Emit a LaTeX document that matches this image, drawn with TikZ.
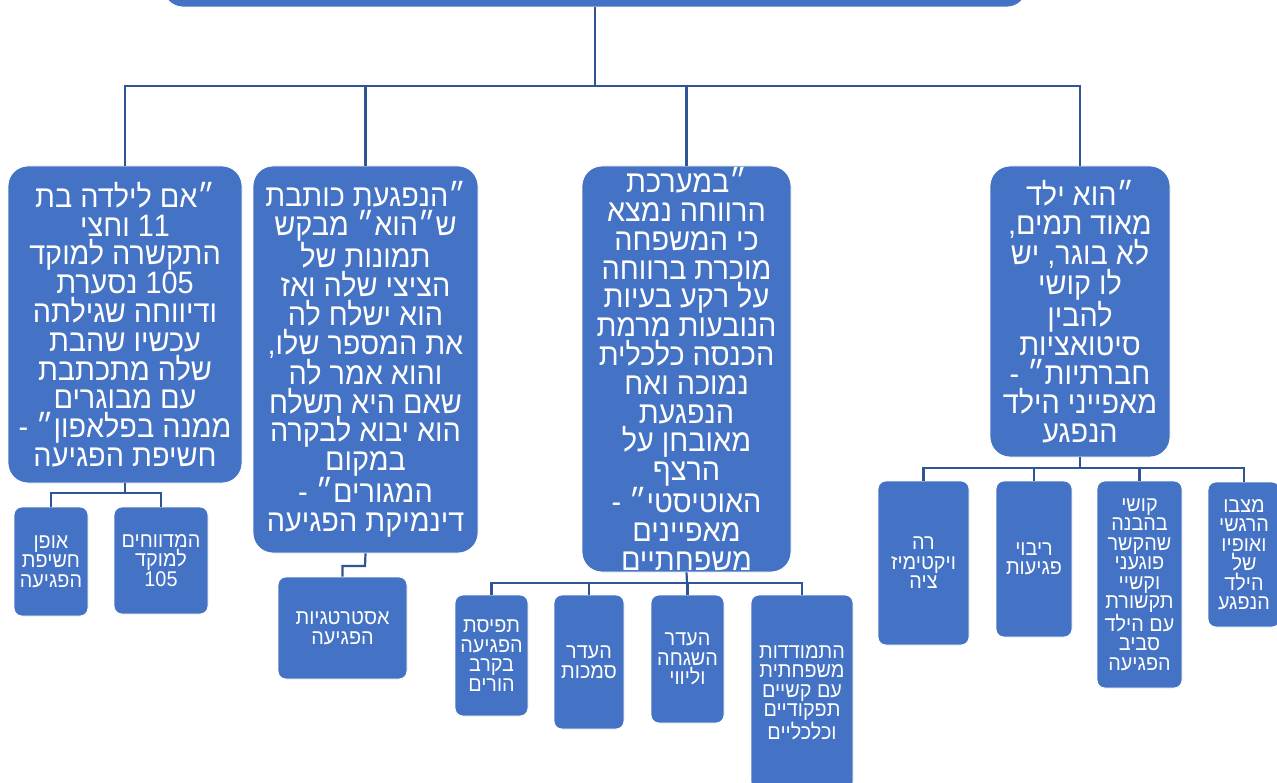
\documentclass[tikz,border=0pt]{standalone}
\usepackage{fontspec}
\newfontfamily\heb[Script=Hebrew, FakeStretch=0.93]{Liberation Sans}
\TeXXeTstate=1
\newcommand\rtl[1]{\beginR #1\endR}
\newcommand\ltrnum[1]{\beginL #1\endL{}}
\definecolor{boxblue}{RGB}{68,114,196}
\definecolor{linkblue}{RGB}{47,85,151}
\tikzset{
  base/.style={rectangle, fill=boxblue, draw=white, line width=0.8pt, text=white, align=center, inner sep=0pt},
  lone/.style={base, rounded corners=20pt, font={\heb\fontsize{31}{28.8}\selectfont}},
  ltwo/.style={base, rounded corners=8pt, font={\heb\fontsize{21.3}{19.5}\selectfont}},
  conn/.style={draw=linkblue, line width=2.2pt}
}
\begin{document}
\begin{tikzpicture}[x=1pt,y=-1pt]
\useasboundingbox (0,0) rectangle (1277,783);
\clip (0,0) rectangle (1277,783);
% root (cut off at top)
\node[lone, minimum width=864, minimum height=80] (root) at (595,-33) {};
% level 1
\node[lone, minimum width=234, minimum height=317] (A) at (125,324.5) {%
\rtl{״אם לילדה בת}\\
\rtl{\ltrnum{11} וחצי}\\
\rtl{התקשרה למוקד}\\
\rtl{\ltrnum{105} נסערת}\\
\rtl{ודיווחה שגילתה}\\
\rtl{עכשיו שהבת}\\
\rtl{שלה מתכתבת}\\
\rtl{עם מבוגרים}\\
\rtl{ממנה בפלאפון״ -}\\
\rtl{חשיפת הפגיעה}};
\node[lone, minimum width=225, minimum height=387] (B) at (365.5,359.5) {%
\rtl{״הנפגעת כותבת}\\
\rtl{ש״הוא״ מבקש}\\
\rtl{תמונות של}\\
\rtl{הציצי שלה ואז}\\
\rtl{הוא ישלח לה}\\
\rtl{את המספר שלו,}\\
\rtl{והוא אמר לה}\\
\rtl{שאם היא תשלח}\\
\rtl{הוא יבוא לבקרה}\\
\rtl{במקום}\\
\rtl{המגורים״ -}\\
\rtl{דינמיקת הפגיעה}};
\node[lone, minimum width=209, minimum height=406] (C) at (686.5,369) {%
\rtl{״במערכת}\\
\rtl{הרווחה נמצא}\\
\rtl{כי המשפחה}\\
\rtl{מוכרת ברווחה}\\
\rtl{על רקע בעיות}\\
\rtl{הנובעות מרמת}\\
\rtl{הכנסה כלכלית}\\
\rtl{נמוכה ואח}\\
\rtl{הנפגעת}\\
\rtl{מאובחן על}\\
\rtl{הרצף}\\
\rtl{האוטיסטי״ -}\\
\rtl{מאפיינים}\\
\rtl{משפחתיים}};
\node[lone, minimum width=180, minimum height=291] (D) at (1080,311.5) {%
\rtl{״הוא ילד}\\
\rtl{מאוד תמים,}\\
\rtl{לא בוגר, יש}\\
\rtl{לו קושי}\\
\rtl{להבין}\\
\rtl{סיטואציות}\\
\rtl{חברתיות״ -}\\
\rtl{מאפייני הילד}\\
\rtl{הנפגע}};
% level 2 under A
\node[ltwo, minimum width=74, minimum height=109] (A1) at (51,561.5) {\rtl{אופן}\\\rtl{חשיפת}\\\rtl{הפגיעה}};
\node[ltwo, minimum width=94, minimum height=107] (A2) at (161,560.5) {\rtl{המדווחים}\\\rtl{למוקד}\\\ltrnum{105}};
% level 2 under B
\node[ltwo, minimum width=129, minimum height=102] (B1) at (342.5,628) {\rtl{אסטרטגיות}\\\rtl{הפגיעה}};
% level 2 under C
\node[ltwo, minimum width=73, minimum height=121] (C1) at (491.5,655.5) {\rtl{תפיסת}\\\rtl{הפגיעה}\\\rtl{בקרב}\\\rtl{הורים}};
\node[ltwo, minimum width=70, minimum height=134] (C2) at (589,662) {\rtl{העדר}\\\rtl{סמכות}};
\node[ltwo, minimum width=73, minimum height=128] (C3) at (687.5,659) {\rtl{העדר}\\\rtl{השגחה}\\\rtl{וליווי}};
\node[ltwo, minimum width=102, minimum height=195] (C4) at (802,692.5) {\rtl{התמודדות}\\\rtl{משפחתית}\\\rtl{עם קשיים}\\\rtl{תפקודיים}\\\rtl{וכלכליים}};
% level 2 under D
\node[ltwo, minimum width=91, minimum height=164] (D1) at (923.5,563) {\rtl{רה}\\\rtl{ויקטימיז}\\\rtl{ציה}};
\node[ltwo, minimum width=76, minimum height=156] (D2) at (1034,559) {\rtl{ריבוי}\\\rtl{פגיעות}};
\node[ltwo, minimum width=85, minimum height=207] (D3) at (1139.5,584.5) {\rtl{קושי}\\\rtl{בהבנה}\\\rtl{שהקשר}\\\rtl{פוגעני}\\\rtl{וקשיי}\\\rtl{תקשורת}\\\rtl{עם הילד}\\\rtl{סביב}\\\rtl{הפגיעה}};
\node[ltwo, minimum width=72, minimum height=145] (D4) at (1244,554.5) {\rtl{מצבו}\\\rtl{הרגשי}\\\rtl{ואופיו}\\\rtl{של}\\\rtl{הילד}\\\rtl{הנפגע}};
% connectors
\coordinate (bus0) at (595,86);
\draw[conn] (root.south) -- (bus0);
\draw[conn] (A.north) -- (A.north |- bus0) -- (D.north |- bus0) -- (D.north);
\draw[conn] (B.north) -- (B.north |- bus0);
\draw[conn] (C.north) -- (C.north |- bus0);
% A children
\coordinate (busA) at (125,493);
\draw[conn] (A.south) -- (busA);
\draw[conn] (A1.north) -- (A1.north |- busA) -- (A2.north |- busA) -- (A2.north);
% B child
\coordinate (busB) at (365,566);
\draw[conn] (B.south) -- (busB) -- (B1.north |- busB) -- (B1.north);
% C children
\coordinate (busC) at (687,583);
\draw[conn] (C.south) -- (busC);
\draw[conn] (C1.north) -- (C1.north |- busC) -- (C4.north |- busC) -- (C4.north);
\draw[conn] (C2.north) -- (C2.north |- busC);
\draw[conn] (C3.north) -- (C3.north |- busC);
% D children
\coordinate (busD) at (1080,468);
\draw[conn] (D.south) -- (busD);
\draw[conn] (D1.north) -- (D1.north |- busD) -- (D4.north |- busD) -- (D4.north);
\draw[conn] (D2.north) -- (D2.north |- busD);
\draw[conn] (D3.north) -- (D3.north |- busD);
\end{tikzpicture}
\end{document}
